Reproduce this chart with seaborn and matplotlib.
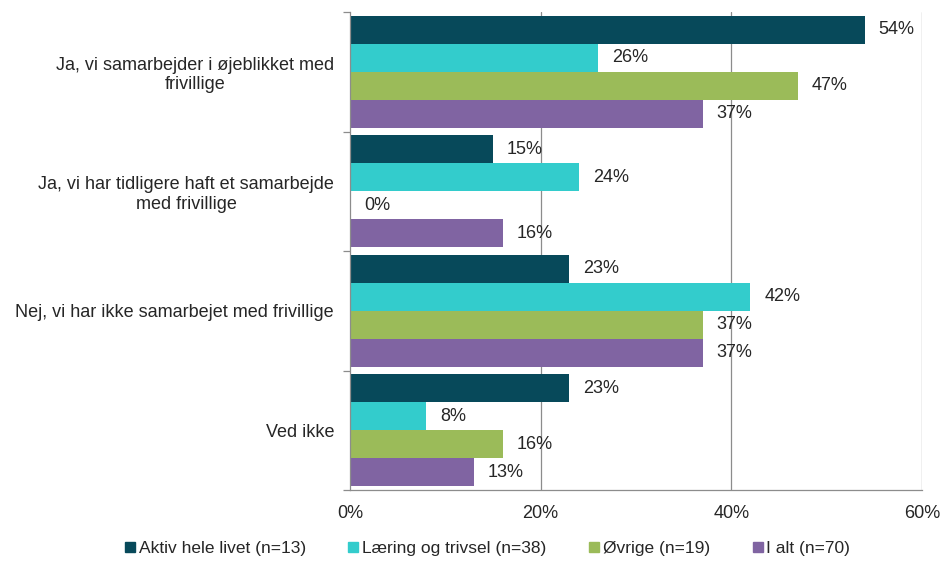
import matplotlib
matplotlib.use("Agg")
import matplotlib.pyplot as plt
import seaborn as sns
import pandas as pd
from matplotlib.ticker import FuncFormatter, FixedLocator
from matplotlib.lines import Line2D

categories = [
    "Ja, vi samarbejder i øjeblikket med\nfrivillige",
    "Ja, vi har tidligere haft et samarbejde\nmed frivillige",
    "Nej, vi har ikke samarbejet med frivillige",
    "Ved ikke",
]
series = ["Aktiv hele livet (n=13)", "Læring og trivsel (n=38)", "Øvrige (n=19)", "I alt (n=70)"]
aktiv = [54, 15, 23, 23]
laering = [26, 24, 42, 8]
ovrige = [47, 0, 37, 16]
i_alt = [37, 16, 37, 13]
colors = ["#07495A", "#33CCCC", "#9BBB59", "#8064A2"]
xticks = [0, 20, 40, 60]

rows = []
for name, vals in zip(series, [aktiv, laering, ovrige, i_alt]):
    for cat, v in zip(categories, vals):
        rows.append({"kategori": cat, "serie": name, "pct": v})
df = pd.DataFrame(rows)

sns.set_style("white")
plt.rcParams["font.family"] = ["Liberation Sans", "DejaVu Sans"]

fig = plt.figure(figsize=(9.43, 5.72), dpi=100)
ax = fig.add_axes([350 / 943, 1 - 490 / 572, 572 / 943, 478 / 572])

sns.barplot(data=df, y="kategori", x="pct", hue="serie", orient="h",
            palette=colors, width=0.94, dodge=True, ax=ax, legend=False,
            order=categories, hue_order=series, errorbar=None, saturation=1,
            linewidth=0)

for cont in ax.containers:
    ax.bar_label(cont, labels=[f"{v:.0f}%" for v in cont.datavalues],
                 padding=10, fontsize=13, color="#262626")

ax.set_xlim(0, 60)
ax.set_ylim(3.5, -0.5)
ax.set_xlabel("")
ax.set_ylabel("")
ax.xaxis.set_major_locator(FixedLocator(xticks))
ax.xaxis.set_major_formatter(FuncFormatter(lambda v, p: f"{v:.0f}%"))
for x in xticks[1:]:
    ax.axvline(x, color="#8C8C8C", lw=0.9, zorder=0)

for side in ["top", "right"]:
    ax.spines[side].set_visible(False)
for side in ["left", "bottom"]:
    ax.spines[side].set_color("#8C8C8C")
    ax.spines[side].set_linewidth(0.9)

ax.tick_params(axis="x", which="major", direction="out", length=5, width=0.9,
               color="#8C8C8C", labelsize=13, pad=6, labelcolor="#262626")
ax.tick_params(axis="y", which="major", length=0, pad=11.5, labelsize=13,
               labelcolor="#262626")
ax.set_yticks(range(len(categories)))
ax.set_yticklabels(categories, ha="right", multialignment="center")
ax.yaxis.set_minor_locator(FixedLocator([-0.5, 0.5, 1.5, 2.5, 3.5]))
ax.tick_params(axis="y", which="minor", direction="out", length=5, width=0.9,
               color="#8C8C8C", left=True)

handles = [Line2D([0], [0], marker="s", linestyle="", markersize=6.5,
                  markerfacecolor=c, markeredgecolor=c) for c in colors]
fig.legend(handles, series, loc="center", bbox_to_anchor=(487 / 943, 1 - 548 / 572),
           ncol=4, frameon=False, handletextpad=0.15,
           columnspacing=2.4, handlelength=0.7,
           prop={"size": 12.5})

fig.savefig("out.png", dpi=100)
